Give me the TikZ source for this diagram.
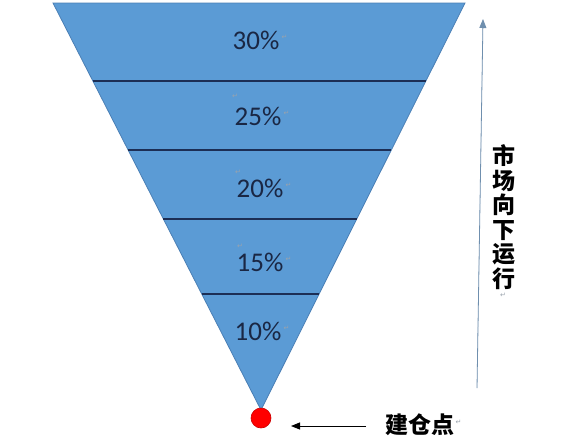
\documentclass[tikz,border=0pt]{standalone}
\usepackage{fontspec}
\setmainfont{Carlito}
\newfontfamily\cjk{Noto Sans CJK SC}
\newfontfamily\symf{DejaVu Sans}
\usetikzlibrary{calc,arrows.meta}
\definecolor{funnelblue}{HTML}{5B9BD5}
\definecolor{funneledge}{HTML}{4A7FB5}
\definecolor{bandline}{HTML}{1C2E55}
\definecolor{pcttext}{HTML}{1A2744}
\definecolor{upblue}{HTML}{6F8FAE}
\definecolor{markgray}{HTML}{9AA3AD}
\tikzset{
  pct/.style={font=\fontsize{27}{30}\selectfont, text=pcttext, inner sep=0pt},
  band/.style={draw=bandline, line width=1.6pt},
  cjklabel/.style={font=\cjk\bfseries\fontsize{23}{24.5}\selectfont, text=black, inner sep=0pt},
  pmark/.style={font=\symf\fontsize{7}{7}\selectfont, text=markgray, inner sep=0pt}
}
\begin{document}
\begin{tikzpicture}[x=1pt,y=-1pt]
\useasboundingbox (0,0) rectangle (575,442);
% funnel
\coordinate (TL) at (53,3);
\coordinate (TR) at (465,3);
\coordinate (A) at (261,410);
\filldraw[fill=funnelblue, draw=funneledge, line width=0.8pt] (TL) -- (TR) -- (A) -- cycle;
% band lines
\foreach \t/\n in {0.1916/1,0.3612/2,0.5307/3,0.715/4}{
  \coordinate (L\n) at ($(TL)!\t!(A)$);
  \coordinate (R\n) at ($(TR)!\t!(A)$);
  \draw[band] (L\n) -- (R\n);
}
% percentages
\node[pct] (p30) at (256,40) {30\%};
\node[pct] (p25) at (258,116) {25\%};
\node[pct] (p20) at (260,188) {20\%};
\node[pct] (p15) at (260,262) {15\%};
\node[pct] (p10) at (258,331) {10\%};
\node[pmark, anchor=west] (m30) at ([xshift=2pt,yshift=3pt]p30.east) {↵};
\node[pmark, anchor=west] (m25) at ([xshift=2pt,yshift=3pt]p25.east) {↵};
\node[pmark, anchor=west] (m20) at ([xshift=2pt,yshift=3pt]p20.east) {↵};
\node[pmark, anchor=west] (m15) at ([xshift=2pt,yshift=3pt]p15.east) {↵};
\node[pmark, anchor=west] (m10) at ([xshift=2pt,yshift=3pt]p10.east) {↵};
\node[pmark] (n25) at (235,96) {↵};
\node[pmark] (n20) at (238,172) {↵};
\node[pmark] (n15) at (240,246) {↵};
% build point
\node[circle, fill=red, draw=red!80!black, line width=0.6pt, minimum size=20pt, inner sep=0pt] (pt) at (261,418) {};
\node[cjklabel, anchor=west] (jc) at (385,425) {建仓点};
\node[pmark, anchor=west] (mjc) at ([xshift=1pt,yshift=3pt]jc.east) {↵};
\coordinate (ab) at (366,426);
\coordinate (ae) at (291,426);
\draw[-{Triangle[length=9pt,width=7pt]}, line width=0.9pt, black] (ab) -- (ae);
% market arrow
\coordinate (ub) at (477,388);
\coordinate (ut) at (483,19);
\draw[-{Triangle[length=9pt,width=7pt]}, draw=upblue, fill=upblue, line width=0.8pt] (ub) -- (ut);
\node[cjklabel, align=center] (mkt) at (504,217) {市\\场\\向\\下\\运\\行};
\node[pmark] (mmkt) at (503,295) {↵};
\end{tikzpicture}
\end{document}
